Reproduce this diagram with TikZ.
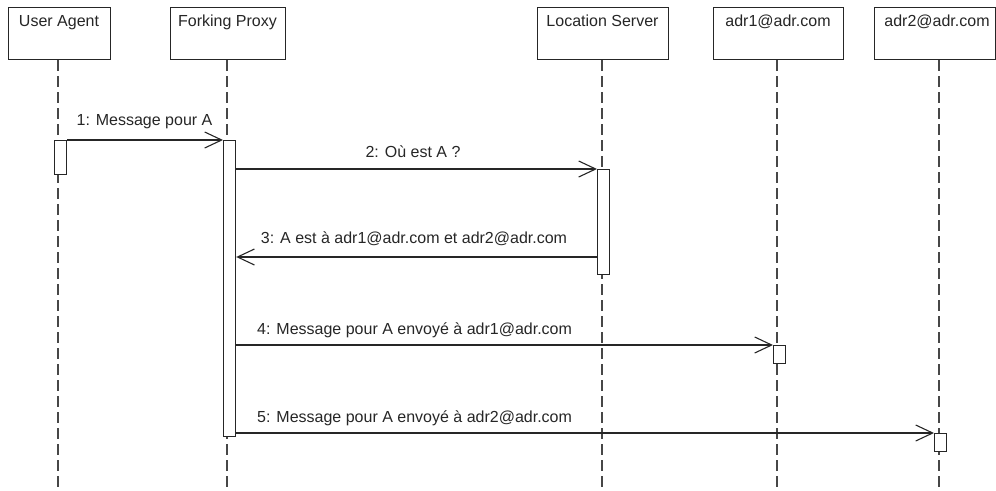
\documentclass[tikz,border=0pt]{standalone}
\usepackage{fontspec}
\setmainfont{Liberation Sans}
\usetikzlibrary{arrows.meta}
\definecolor{ink}{HTML}{262626}
\tikzset{
  participant/.style={draw=ink, line width=1.3pt, fill=white, rectangle, inner sep=0pt, anchor=north west},
  ptext/.style={anchor=base, text=ink, font=\fontsize{16}{18}\selectfont, inner sep=0pt},
  lifeline/.style={draw=ink!85, line width=1.2pt, dash pattern=on 11pt off 5pt},
  activation/.style={draw=ink, line width=1.2pt, fill=white, rectangle, inner sep=0pt, anchor=north west, minimum width=12pt},
  msg/.style={draw=ink, line width=1.1pt, -{Straight Barb[length=17pt,width=16pt,line width=1.1pt]}},
  mlabel/.style={anchor=base, text=ink, font=\fontsize{16}{18}\selectfont, inner sep=0pt},
}
\begin{document}
\begin{tikzpicture}[x=1pt,y=-1pt]
\useasboundingbox (0,0) rectangle (996,490);
% participants
\node[participant, minimum width=102pt, minimum height=52pt] (ua) at (8,7) {};
\node[participant, minimum width=115pt, minimum height=52pt] (fp) at (170,7) {};
\node[participant, minimum width=131pt, minimum height=52pt] (ls) at (537,7) {};
\node[participant, minimum width=130pt, minimum height=52pt] (a1) at (713,7) {};
\node[participant, minimum width=121pt, minimum height=52pt] (a2) at (874,7) {};
\node[ptext] (uat) at (59,26) {User Agent};
\node[ptext] (fpt) at (227.5,26) {Forking Proxy};
\node[ptext] (lst) at (602.5,26) {Location Server};
\node[ptext] (a1t) at (778,26) {adr1@adr.com};
\node[ptext] (a2t) at (937,26) {adr2@adr.com};
% lifeline ends
\coordinate (uae) at (58,490);
\coordinate (fpe) at (227,490);
\coordinate (lse) at (602,490);
\coordinate (a1e) at (777,490);
\coordinate (a2e) at (939,490);
\draw[lifeline] (ua.south -| uae) -- (uae);
\draw[lifeline] (fp.south -| fpe) -- (fpe);
\draw[lifeline] (ls.south -| lse) -- (lse);
\draw[lifeline] (a1.south -| a1e) -- (a1e);
\draw[lifeline] (a2.south -| a2e) -- (a2e);
% activations
\node[activation, minimum height=34pt] (uaa) at (54,140) {};
\node[activation, minimum height=296pt] (fpa) at (223,140) {};
\node[activation, minimum height=105pt] (lsa) at (597,169) {};
\node[activation, minimum height=18pt] (a1a) at (773,345) {};
\node[activation, minimum height=18pt] (a2a) at (934,433) {};
% messages
\coordinate (m3) at (0,257);
\draw[msg] (uaa.north east) -- (fpa.north west);
\draw[msg] (fpa.east |- lsa.north) -- (lsa.north west);
\draw[msg] (lsa.west |- m3) -- (fpa.east |- m3);
\draw[msg] (fpa.east |- a1a.north) -- (a1a.north west);
\draw[msg] (fpa.east |- a2a.north) -- (a2a.north west);
% labels
\node[mlabel] (l1) at (144.5,125) {1: Message pour A};
\node[mlabel] (l2) at (413,157) {2: Où est A ?};
\node[mlabel] (l3) at (414,243) {3: A est à adr1@adr.com et adr2@adr.com};
\node[mlabel, anchor=base west] (l4) at (257,334) {4: Message pour A envoyé à adr1@adr.com};
\node[mlabel, anchor=base west] (l5) at (257,422) {5: Message pour A envoyé à adr2@adr.com};
\end{tikzpicture}
\end{document}
